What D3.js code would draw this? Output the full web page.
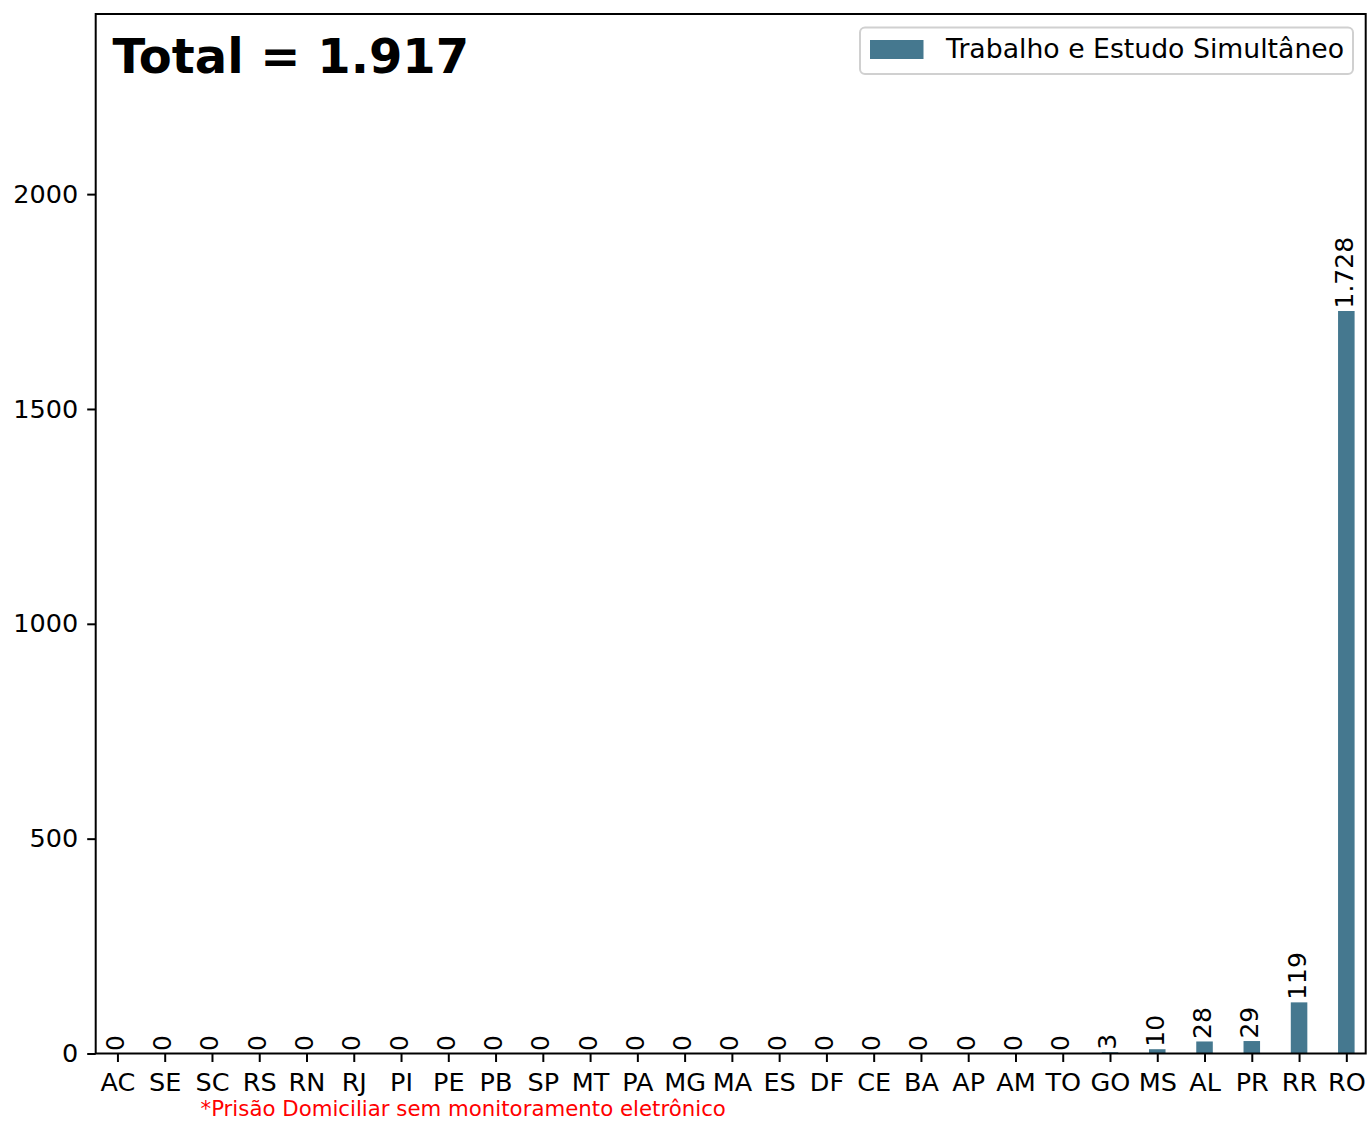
<!DOCTYPE html>
<html>
<head>
<meta charset="utf-8">
<script src="https://cdn.jsdelivr.net/npm/d3@7"></script>
<style>
  html, body { margin: 0; padding: 0; background: #fff; }
  svg { display: block; font-family: "DejaVu Sans", sans-serif; }
</style>
</head>
<body>
<svg id="chart" width="1367" height="1121"></svg>
<script>
// States and counts of simultaneous work and study
const states = ["AC","SE","SC","RS","RN","RJ","PI","PE","PB","SP","MT","PA","MG","MA","ES","DF","CE","BA","AP","AM","TO","GO","MS","AL","PR","RR","RO"];
const values = [0,0,0,0,0,0,0,0,0,0,0,0,0,0,0,0,0,0,0,0,0,3,10,28,29,119,1728];
const yTicks = [0, 500, 1000, 1500, 2000];
const seriesName = "Trabalho e Estudo Simultâneo";
const footnote = "*Prisão Domiciliar sem monitoramento eletrônico";

const barColor = "#45788f";
const ptBR = d3.formatLocale({ decimal: ",", thousands: ".", grouping: [3], currency: ["R$", ""] });
const fmt = ptBR.format(",d");

const svg = d3.select("#chart");
const plot = { left: 95.7, right: 1365.7, top: 14, bottom: 1053.5 };

const x = d3.scaleLinear().domain([-0.46, 26.41]).range([plot.left, plot.right]);
// headroom of 40% above the tallest bar
const y = d3.scaleLinear().domain([0, d3.max(values) * 1.4]).range([plot.bottom, plot.top]);
const step = x(1) - x(0);
const barW = step * 0.35;

// Bars
svg.append("g").selectAll("rect")
  .data(values)
  .join("rect")
  .attr("x", (d, i) => x(i) - barW / 2)
  .attr("y", d => y(d))
  .attr("width", barW)
  .attr("height", d => y(0) - y(d))
  .attr("fill", barColor);

// Value labels, rotated
const labelSize = 25;
svg.append("g").selectAll("text")
  .data(values)
  .join("text")
  .attr("transform", (d, i) => `translate(${x(i) + labelSize * 0.26},${y(d) - 2.5}) rotate(-90)`)
  .attr("font-size", labelSize)
  .attr("fill", "#000")
  .text(d => fmt(d));

// X axis
const xAxis = d3.axisBottom(x)
  .tickValues(d3.range(states.length))
  .tickFormat(i => states[i])
  .tickSize(8.5)
  .tickPadding(11)
  .tickSizeOuter(0);
const gx = svg.append("g").attr("transform", `translate(0,${plot.bottom})`).call(xAxis);
gx.select(".domain").remove();
gx.selectAll(".tick line").attr("stroke", "#000").attr("stroke-width", 2);
gx.selectAll(".tick text").attr("font-size", 25.5).attr("fill", "#000")
  .attr("font-family", "DejaVu Sans");

// Y axis
const yAxis = d3.axisLeft(y)
  .tickValues(yTicks)
  .tickFormat(d3.format("d"))
  .tickSize(8.5)
  .tickPadding(9)
  .tickSizeOuter(0);
const gy = svg.append("g").attr("transform", `translate(${plot.left},0)`).call(yAxis);
gy.select(".domain").remove();
gy.selectAll(".tick line").attr("stroke", "#000").attr("stroke-width", 2);
gy.selectAll(".tick text").attr("font-size", 25.5).attr("fill", "#000")
  .attr("font-family", "DejaVu Sans");

// Frame
svg.append("rect")
  .attr("x", plot.left).attr("y", plot.top)
  .attr("width", plot.right - plot.left).attr("height", plot.bottom - plot.top)
  .attr("fill", "none").attr("stroke", "#000").attr("stroke-width", 2);

// Total
const total = d3.sum(values);
svg.append("text")
  .attr("x", 112.5).attr("y", 72.5)
  .attr("font-size", 48).attr("font-weight", "bold").attr("fill", "#000")
  .text(`Total = ${fmt(total)}`);

// Legend
const lg = svg.append("g");
lg.append("rect")
  .attr("x", 860).attr("y", 27.5).attr("width", 493).attr("height", 46.5)
  .attr("rx", 5).attr("fill", "#fff").attr("fill-opacity", 0.8)
  .attr("stroke", "#d0d0d0").attr("stroke-width", 2);
lg.append("rect")
  .attr("x", 870).attr("y", 40).attr("width", 53.5).attr("height", 19)
  .attr("fill", barColor);
lg.append("text")
  .attr("x", 946).attr("y", 58)
  .attr("font-size", 26.7).attr("fill", "#000")
  .text(seriesName);

// Footnote
svg.append("text")
  .attr("x", 200.5).attr("y", 1115.5)
  .attr("font-size", 21.3).attr("fill", "red")
  .text(footnote);
</script>
</body>
</html>
